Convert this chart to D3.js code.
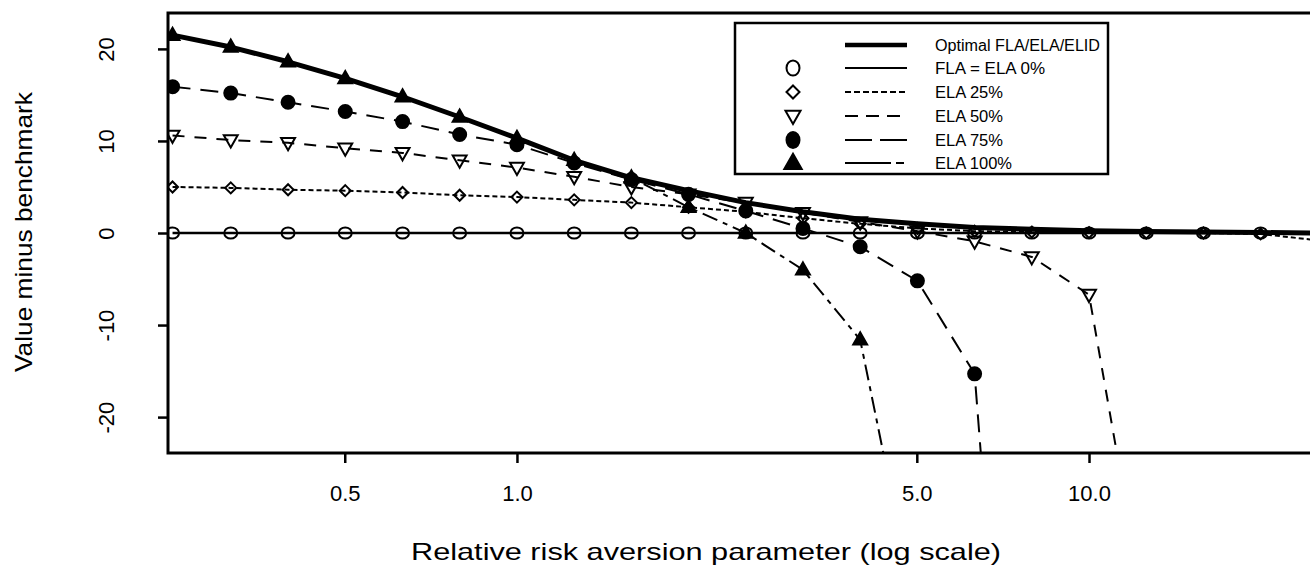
<!DOCTYPE html>
<html>
<head>
<meta charset="utf-8">
<script src="https://cdn.jsdelivr.net/npm/d3@7"></script>
<style>
  html, body { margin: 0; padding: 0; background: #fff; }
  svg { display: block; }
  text { font-family: "Liberation Sans", Arial, sans-serif; fill: #000; }
</style>
</head>
<body>
<svg id="chart" width="1310" height="580"></svg>
<script>
// Relative risk aversion grid (log-spaced)
const riskAversion = [0.25, 0.316, 0.398, 0.501, 0.631, 0.794, 1.0, 1.259, 1.585, 1.995,
                      2.512, 3.162, 3.981, 5.012, 6.310, 7.943, 10.0, 12.59, 15.85, 19.95, 25.12];

// Value minus benchmark for each strategy
const optimal = [21.5, 20.2, 18.6, 16.8, 14.8, 12.6, 10.3, 7.9, 6.0, 4.6, 3.3, 2.3, 1.5, 1.0, 0.6, 0.4, 0.25, 0.15, 0.1, 0.05, 0.0];
const ela0    = [0, 0, 0, 0, 0, 0, 0, 0, 0, 0, 0, 0, 0, 0, 0, 0, 0, 0, 0, 0, 0];
const ela25   = [5.0, 4.9, 4.7, 4.6, 4.4, 4.1, 3.9, 3.6, 3.3, 2.8, 2.3, 1.6, 1.0, 0.5, 0.2, 0.1, 0.05, 0.0, 0.0, -0.1, -0.8];
const ela50   = [10.6, 10.1, 9.8, 9.2, 8.7, 7.9, 7.1, 6.1, 5.0, 4.2, 3.3, 2.2, 1.2, 0.2, -0.9, -2.6, -6.7, -42];
const ela75   = [15.9, 15.2, 14.2, 13.2, 12.1, 10.7, 9.6, 7.6, 5.8, 4.2, 2.4, 0.5, -1.5, -5.2, -15.3, -95];
const ela100  = [21.5, 20.2, 18.6, 16.8, 14.8, 12.6, 10.3, 7.9, 6.0, 2.8, 0.0, -4.0, -11.6, -42];

const xTicks = [0.5, 1.0, 5.0, 10.0];
const xTickLabels = ["0.5", "1.0", "5.0", "10.0"];
const yTicks = [-20, -10, 0, 10, 20];
const yTickLabels = ["-20", "-10", "0", "10", "20"];

const seriesNames = ["Optimal FLA/ELA/ELID", "FLA = ELA 0%", "ELA 25%", "ELA 50%", "ELA 75%", "ELA 100%"];

const svg = d3.select("#chart");
const box = { left: 168, top: 13, bottom: 453, right: 1335 };

const x = d3.scaleLog().domain([Math.pow(10, -0.61), Math.pow(10, 1.43)]).range([box.left, box.right]);
const y = d3.scaleLinear().domain([-23.9, 23.9]).range([box.bottom, box.top]);

svg.append("defs").append("clipPath").attr("id", "plotClip")
  .append("rect").attr("x", box.left).attr("y", box.top)
  .attr("width", box.right - box.left).attr("height", box.bottom - box.top);

// Marker shapes
const tri = (s) => `M0,${-s * 0.62}L${s * 0.58},${s * 0.4}L${-s * 0.58},${s * 0.4}Z`;
const triDown = (s) => `M0,${s * 0.62}L${s * 0.58},${-s * 0.4}L${-s * 0.58},${-s * 0.4}Z`;
const diamond = (s) => `M0,${-s}L${s},0L0,${s}L${-s},0Z`;
const ellipse = (rx, ry) => `M${-rx},0A${rx},${ry} 0 1,0 ${rx},0A${rx},${ry} 0 1,0 ${-rx},0Z`;

const series = [
  { name: seriesNames[0], values: optimal, width: 5, dash: null, legendDash: null, marker: null },
  { name: seriesNames[1], values: ela0, width: 2.5, dash: null, legendDash: null,
    marker: { path: ellipse(6.5, 5.5), legend: ellipse(6.5, 7.5), fill: "none" } },
  { name: seriesNames[2], values: ela25, width: 2, dash: "5,3", legendDash: "6,3",
    marker: { path: diamond(5.5), legend: diamond(6.5), fill: "none" } },
  { name: seriesNames[3], values: ela50, width: 2, dash: "12,10", legendDash: "13,8",
    marker: { path: triDown(12), legend: triDown(13), fill: "none" } },
  { name: seriesNames[4], values: ela75, width: 2, dash: "18,10", legendDash: "27,8",
    marker: { path: ellipse(6.5, 6.5), legend: ellipse(6.5, 8), fill: "#000" } },
  { name: seriesNames[5], values: ela100, width: 2, dash: "16,6,5,6", legendDash: "46,5,8,5",
    marker: { path: tri(12), legend: tri(15), fill: "#000" } }
];

const plot = svg.append("g").attr("clip-path", "url(#plotClip)");
const line = d3.line().x(d => x(d[0])).y(d => y(d[1]));

series.forEach(s => {
  const pts = s.values.map((v, i) => [riskAversion[i], v]);
  plot.append("path")
    .attr("d", line(pts))
    .attr("fill", "none")
    .attr("stroke", "#000")
    .attr("stroke-width", s.width)
    .attr("stroke-dasharray", s.dash)
    .attr("stroke-linejoin", "round");
  if (s.marker) {
    plot.selectAll(null).data(pts).enter().append("path")
      .attr("d", s.marker.path)
      .attr("transform", d => `translate(${x(d[0])},${y(d[1])})`)
      .attr("fill", s.marker.fill)
      .attr("stroke", "#000")
      .attr("stroke-width", 2);
  }
});

// Plot frame
svg.append("rect").attr("x", box.left).attr("y", box.top)
  .attr("width", box.right - box.left).attr("height", box.bottom - box.top)
  .attr("fill", "none").attr("stroke", "#000").attr("stroke-width", 3);

// X axis
const xAxis = d3.axisBottom(x).tickValues(xTicks).tickSize(10).tickFormat((d, i) => xTickLabels[i]);
const gx = svg.append("g").attr("transform", `translate(0,${box.bottom})`).call(xAxis);
gx.select(".domain").remove();
gx.selectAll(".tick line").attr("stroke-width", 2.5);
gx.selectAll(".tick text").attr("font-size", 22).attr("dy", 0).attr("y", 48);

// Y axis
const yAxis = d3.axisLeft(y).tickValues(yTicks).tickSize(10).tickFormat((d, i) => yTickLabels[i]);
const gy = svg.append("g").attr("transform", `translate(${box.left},0)`).call(yAxis);
gy.select(".domain").remove();
gy.selectAll(".tick line").attr("stroke-width", 2.5);
gy.selectAll(".tick text").attr("font-size", 22)
  .attr("x", null).attr("dy", null)
  .attr("text-anchor", "middle")
  .attr("transform", "translate(-62,0) rotate(-90)")
  .attr("dominant-baseline", "central");

// Axis titles
svg.append("text").attr("x", 706).attr("y", 560).attr("text-anchor", "middle")
  .attr("font-size", 24).attr("textLength", 590).attr("lengthAdjust", "spacingAndGlyphs")
  .text("Relative risk aversion parameter (log scale)");
svg.append("text").attr("transform", "translate(32,232) rotate(-90)").attr("text-anchor", "middle")
  .attr("font-size", 24).attr("textLength", 280).attr("lengthAdjust", "spacingAndGlyphs")
  .text("Value minus benchmark");

// Legend
const lg = svg.append("g");
lg.append("rect").attr("x", 735).attr("y", 23).attr("width", 373).attr("height", 151)
  .attr("fill", "#fff").attr("stroke", "#000").attr("stroke-width", 2.5);
const rowY = [45, 68, 92, 116, 140, 163];
const textLens = [165, 110, 68, 68, 68, 77];
series.forEach((s, i) => {
  const yy = rowY[i];
  lg.append("line").attr("x1", 845).attr("x2", 907).attr("y1", yy).attr("y2", yy)
    .attr("stroke", "#000").attr("stroke-width", i === 0 ? 4.5 : 2)
    .attr("stroke-dasharray", s.legendDash);
  if (s.marker) {
    lg.append("path").attr("d", s.marker.legend).attr("transform", `translate(793,${yy})`)
      .attr("fill", s.marker.fill).attr("stroke", "#000").attr("stroke-width", 2);
  }
  lg.append("text").attr("x", 935).attr("y", yy).attr("dy", "0.35em")
    .attr("font-size", 16).attr("textLength", textLens[i]).attr("lengthAdjust", "spacingAndGlyphs")
    .text(s.name);
});
</script>
</body>
</html>
